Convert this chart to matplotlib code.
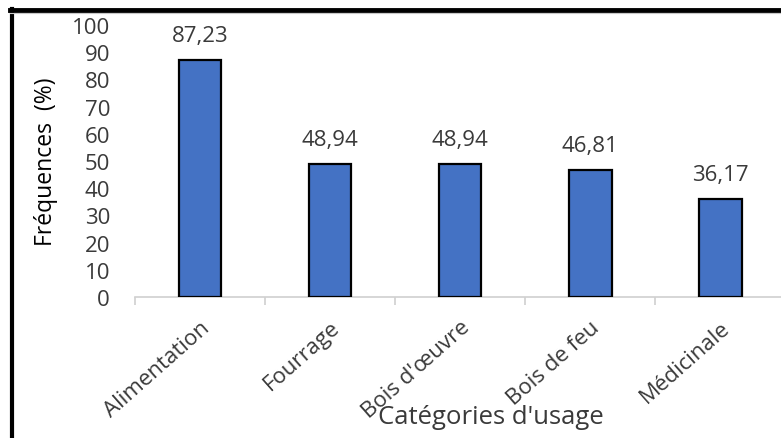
import matplotlib
matplotlib.use("Agg")
import matplotlib.pyplot as plt
from matplotlib.lines import Line2D

# Données
categories = ["Alimentation", "Fourrage", "Bois d'œuvre", "Bois de feu", "Médicinale"]
frequences = [87.23, 48.94, 48.94, 46.81, 36.17]
etiquettes = ["87,23", "48,94", "48,94", "46,81", "36,17"]
yticks = [0, 10, 20, 30, 40, 50, 60, 70, 80, 90, 100]

plt.rcParams["font.family"] = ["Open Sans", "DejaVu Sans"]
texte = "#3a3a3a"

fig = plt.figure(figsize=(7.81, 4.39), dpi=100)
ax = fig.add_axes([0.1729, 0.3212, 0.8323, 0.6196])

x = range(len(categories))
ax.bar(x, frequences, width=0.33, color="#4472C4", edgecolor="black", linewidth=1.6, zorder=3)

# étiquettes de données
for xi, v, lab in zip(x, frequences, etiquettes):
    ax.text(xi, v + 5.0, lab, ha="center", va="bottom", fontsize=16, color=texte)

ax.set_xlim(-0.5, len(categories) - 0.5)
ax.set_ylim(0, 100)
ax.set_yticks(yticks)
ax.set_yticklabels([str(t) for t in yticks], fontsize=16, color=texte)
ax.tick_params(axis="y", length=0, pad=18)

ax.set_xticks(list(x))
ax.set_xticklabels(categories, rotation=41.5, ha="right", rotation_mode="anchor",
                   fontsize=16, color=texte)
ax.tick_params(axis="x", which="major", length=0, pad=14)
ax.set_xticks([i - 0.5 for i in range(len(categories) + 1)], minor=True)
ax.tick_params(axis="x", which="minor", length=6, width=1.2, color="#d0d0d0")

for s in ["left", "right", "top"]:
    ax.spines[s].set_visible(False)
ax.spines["bottom"].set_color("#d0d0d0")
ax.spines["bottom"].set_linewidth(1.2)

ax.set_ylabel("Fréquences  (%)", fontsize=16.5, color="black", labelpad=10)
fig.text(0.629, 0.05, "Catégories d'usage", ha="center", va="center", fontsize=18.5, color=texte)

# cadre noir (gauche et haut)
fig.add_artist(Line2D([0.0153, 0.0153], [0, 0.978], transform=fig.transFigure, color="black", linewidth=3))
fig.add_artist(Line2D([0.0128, 1.0], [0.975, 0.975], transform=fig.transFigure, color="black", linewidth=3.5))
fig.add_artist(Line2D([0.0128, 1.0], [0.968, 0.968], transform=fig.transFigure, color="#c8c8c8", linewidth=0.8))

fig.savefig("out.png", dpi=100)
